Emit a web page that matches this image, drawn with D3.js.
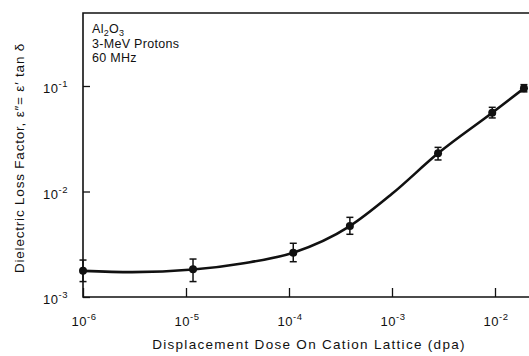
<!DOCTYPE html>
<html><head><meta charset="utf-8">
<script src="https://cdn.jsdelivr.net/npm/d3@7"></script>
<style>body{margin:0;background:#fff}text{font-family:"Liberation Sans",Arial,sans-serif;fill:#111}</style>
</head><body><svg id="c" width="529" height="356"></svg>
<script>
const dose = [1.0e-6, 1.17e-5, 1.1e-4, 3.9e-4, 2.8e-3, 9.4e-3, 1.91e-2];
const loss = [1.77e-3, 1.83e-3, 2.63e-3, 4.7e-3, 0.023, 0.0558, 0.095];
const errLow = [1.40e-3, 1.40e-3, 2.16e-3, 3.93e-3, 0.0199, 0.0498, 0.088];
const errHigh = [2.24e-3, 2.29e-3, 3.23e-3, 5.69e-3, 0.0262, 0.0628, 0.103];
const fitDose = [1.0e-6, 3.0e-6, 1.17e-5, 3.5e-5, 1.1e-4, 3.9e-4, 1.0e-3, 2.8e-3, 9.4e-3, 1.91e-2];
const fitLoss = [1.77e-3, 1.72e-3, 1.82e-3, 2.08e-3, 2.63e-3, 4.7e-3, 9.5e-3, 0.023, 0.0558, 0.095];
const xTicks = [1e-6, 1e-5, 1e-4, 1e-3, 1e-2];
const xTickExp = ["-6", "-5", "-4", "-3", "-2"];
const yTicks = [1e-3, 1e-2, 1e-1];
const yTickExp = ["-3", "-2", "-1"];

const L = 83, R = 529, T = 13, B = 297;
const svg = d3.select("#c");
const x = d3.scaleLog().domain([1e-6, Math.pow(10, -2 + (R - 83 - 412) / 103)]).range([L, R]);
const y = d3.scaleLog().domain([1e-3, Math.pow(10, -1 + (86 - T) / 105.5)]).range([B, T]);

// frame: left, top, bottom
svg.append("path").attr("d", `M${R},${T}H${L}V${B}H${R}`).attr("fill", "none").attr("stroke", "#111").attr("stroke-width", 1.6);

// ticks
const xAxis = d3.axisBottom(x).tickValues(xTicks).tickSize(-9).tickFormat("");
const gx = svg.append("g").attr("transform", `translate(0,${B})`).call(xAxis);
gx.select(".domain").remove();
gx.selectAll("line").attr("stroke", "#111").attr("stroke-width", 1.3);
const yAxis = d3.axisLeft(y).tickValues(yTicks).tickSize(-7).tickFormat("");
const gy = svg.append("g").attr("transform", `translate(${L},0)`).call(yAxis);
gy.select(".domain").remove();
gy.selectAll("line").attr("stroke", "#111").attr("stroke-width", 1.3);

// tick labels
xTicks.forEach((v, i) => {
  const t = svg.append("text").attr("x", x(v) + 1).attr("y", 326).attr("text-anchor", "middle").attr("font-size", 13).attr("letter-spacing", 0.5);
  t.append("tspan").text("10");
  t.append("tspan").attr("dy", -6).attr("font-size", 9.5).text(xTickExp[i]);
});
yTicks.forEach((v, i) => {
  const t = svg.append("text").attr("x", 68).attr("y", y(v) + 7).attr("text-anchor", "end").attr("font-size", 13).attr("letter-spacing", 0.5);
  t.append("tspan").text("10");
  t.append("tspan").attr("dy", -6).attr("font-size", 9.5).text(yTickExp[i]);
});

// axis titles
svg.append("text").attr("x", 309).attr("y", 349).attr("text-anchor", "middle").attr("font-size", 13.5).attr("letter-spacing", 1.3)
  .text("Displacement Dose On Cation Lattice (dpa)");
svg.append("text").attr("transform", "translate(24,158) rotate(-90)").attr("text-anchor", "middle").attr("font-size", 13.5).attr("letter-spacing", 0.8)
  .text("Dielectric Loss Factor, \u03b5\u2033= \u03b5\u2032 tan \u03b4");

// annotation
const a = svg.append("text").attr("x", 92).attr("y", 33).attr("font-size", 12.5).attr("letter-spacing", 0.3);
a.append("tspan").text("Al");
a.append("tspan").attr("dy", 3).attr("font-size", 9).text("2");
a.append("tspan").attr("dy", -3).text("O");
a.append("tspan").attr("dy", 3).attr("font-size", 9).text("3");
svg.append("text").attr("x", 92).attr("y", 48).attr("font-size", 12.5).attr("letter-spacing", 0.3).text("3-MeV Protons");
svg.append("text").attr("x", 92).attr("y", 62).attr("font-size", 12.5).attr("letter-spacing", 0.3).text("60 MHz");

// fitted curve
const line = d3.line().x((d, i) => x(fitDose[i])).y((d, i) => y(fitLoss[i])).curve(d3.curveMonotoneX);
svg.append("path").attr("d", line(fitDose)).attr("fill", "none").attr("stroke", "#111").attr("stroke-width", 2.6);

// error bars
const eb = svg.append("g").attr("stroke", "#111").attr("stroke-width", 1.5);
dose.forEach((d, i) => {
  const cx = x(d);
  eb.append("line").attr("x1", cx).attr("x2", cx).attr("y1", y(errLow[i])).attr("y2", y(errHigh[i]));
  eb.append("line").attr("x1", cx - 3.5).attr("x2", cx + 3.5).attr("y1", y(errLow[i])).attr("y2", y(errLow[i]));
  eb.append("line").attr("x1", cx - 3.5).attr("x2", cx + 3.5).attr("y1", y(errHigh[i])).attr("y2", y(errHigh[i]));
});
// markers
svg.append("g").selectAll("circle").data(dose).join("circle")
  .attr("cx", d => x(d)).attr("cy", (d, i) => y(loss[i])).attr("r", 4).attr("fill", "#111");
</script></body></html>
